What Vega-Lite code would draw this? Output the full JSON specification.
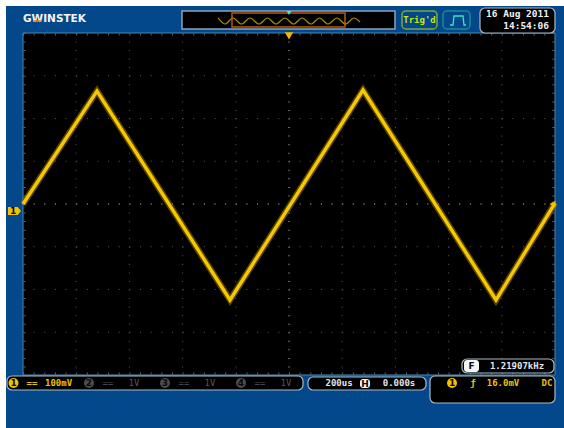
{
"$schema":"https://vega.github.io/schema/vega-lite/v6.json",
"width":564,"height":428,"padding":0,
"autosize":{"type":"none"},
"background":"#ffffff",
"config":{"view":{"stroke":null}},
"datasets":{"trace":[{"t":-1000,"v":0},{"t":-721.8,"v":264.3},{"t":-221.8,"v":-224.6},{"t":278.2,"v":266.7},{"t":778.2,"v":-224.6},{"t":1000,"v":2.3}]},
"encoding":{
"x":{"field":"t","type":"quantitative","axis":null,"scale":{"domain":[-1086.47,1033.84],"nice":false,"zero":false}},
"y":{"field":"v","type":"quantitative","axis":null,"scale":{"domain":[-523.98,477.19],"nice":false,"zero":false}}
},
"layer":[
{"data":{"values":[{"t":-1063.9,"t2":1033.84,"v":463.2,"v2":-523.98}]},"mark":{"type":"rect","fill":"#02488a"},"encoding":{"x2":{"field":"t2"},"y2":{"field":"v2"}}},
{"data":{"values":[{"t":-1000,"t2":1000,"v":400,"v2":-400}]},"mark":{"type":"rect","fill":"#000000","stroke":"#4a88b4","strokeWidth":1},"encoding":{"x2":{"field":"t2"},"y2":{"field":"v2"}}},
{"data":{"values":[{"t":-800,"v":400,"v2":-400},{"t":-600,"v":400,"v2":-400},{"t":-400,"v":400,"v2":-400},{"t":-200,"v":400,"v2":-400},{"t":200,"v":400,"v2":-400},{"t":400,"v":400,"v2":-400},{"t":600,"v":400,"v2":-400},{"t":800,"v":400,"v2":-400}]},"mark":{"type":"rule","stroke":"#5c5c5c","strokeWidth":1,"strokeDash":[1,7.55]},"encoding":{"y2":{"field":"v2"}}},
{"data":{"values":[{"v":300,"t":-1000,"t2":1000},{"v":200,"t":-1000,"t2":1000},{"v":100,"t":-1000,"t2":1000},{"v":-100,"t":-1000,"t2":1000},{"v":-200,"t":-1000,"t2":1000},{"v":-300,"t":-1000,"t2":1000}]},"mark":{"type":"rule","stroke":"#5c5c5c","strokeWidth":1,"strokeDash":[1,9.64]},"encoding":{"x2":{"field":"t2"}}},
{"data":{"values":[{"t":0,"v":400,"v2":-400},{"t":-994.4,"v":400,"v2":-400},{"t":994.4,"v":400,"v2":-400}]},"mark":{"type":"rule","stroke":"#666666","strokeWidth":2.2,"strokeDash":[1,7.55]},"encoding":{"y2":{"field":"v2"}}},
{"data":{"values":[{"v":0,"t":-1000,"t2":1000},{"v":396.5,"t":-1000,"t2":1000},{"v":-396.5,"t":-1000,"t2":1000}]},"mark":{"type":"rule","stroke":"#666666","strokeWidth":2.2,"strokeDash":[1,9.64]},"encoding":{"x2":{"field":"t2"}}},
{"data":{"name":"trace"},"mark":{"type":"line","stroke":"#8a6500","strokeWidth":6.5,"opacity":0.65,"strokeJoin":"miter","strokeMiterLimit":6}},
{"data":{"name":"trace"},"mark":{"type":"line","stroke":"#f6c800","strokeWidth":3.4,"strokeJoin":"miter"}},
{"data":{"values":[{"t":-402.3,"t2":398.5,"v":451.5,"v2":409.4}]},"mark":{"type":"rect","fill":"#000000","stroke":"#8fa3b5","strokeWidth":1.5},"encoding":{"x2":{"field":"t2"},"y2":{"field":"v2"}}},
{"data":{"values":[{"t":-214.3,"t2":210.5,"v":446.8,"v2":414}]},"mark":{"type":"rect","fill":"#000000","stroke":"#b85a08","strokeWidth":1.5},"encoding":{"x2":{"field":"t2"},"y2":{"field":"v2"}}},
{"data":{"values":[{"t":-266.9,"v":435.1},{"t":-240.6,"v":421.1},{"t":-210.5,"v":435.1},{"t":-178.6,"v":421.1},{"t":-146.6,"v":435.1},{"t":-112.8,"v":421.1},{"t":-80.8,"v":435.1},{"t":-48.9,"v":421.1},{"t":-15,"v":435.1},{"t":16.9,"v":421.1},{"t":48.9,"v":435.1},{"t":82.7,"v":421.1},{"t":114.7,"v":435.1},{"t":146.6,"v":421.1},{"t":180.5,"v":435.1},{"t":212.4,"v":421.1},{"t":244.4,"v":435.1},{"t":266.9,"v":425.7}]},"mark":{"type":"line","stroke":"#a58600","strokeWidth":1.2,"interpolate":"monotone"}},
{"data":{"values":[{"t":424.8,"t2":556.4,"v":451.5,"v2":409.4}]},"mark":{"type":"rect","fill":"#02488a","stroke":"#7fa63a","strokeWidth":1.5,"cornerRadius":4},"encoding":{"x2":{"field":"t2"},"y2":{"field":"v2"}}},
{"data":{"values":[{"t":578.9,"t2":680.5,"v":451.5,"v2":409.4}]},"mark":{"type":"rect","fill":"#02488a","stroke":"#1c8a92","strokeWidth":1.5,"cornerRadius":4},"encoding":{"x2":{"field":"t2"},"y2":{"field":"v2"}}},
{"data":{"values":[{"t":605.3,"v":418.7},{"t":616.5,"v":418.7},{"t":620.3,"v":439.8},{"t":654.1,"v":439.8},{"t":657.9,"v":418.7},{"t":665.4,"v":418.7}]},"mark":{"type":"line","stroke":"#3fe3c8","strokeWidth":1.3}},
{"data":{"values":[{"t":718,"t2":1000,"v":458.5,"v2":400},{"t":-1060.2,"t2":52.6,"v":-402.3,"v2":-435.1},{"t":71.4,"t2":515,"v":-404.7,"v2":-435.1},{"t":530.1,"t2":1000,"v":-402.3,"v2":-465.5},{"t":650.4,"t2":996.2,"v":-362.6,"v2":-395.3}]},"mark":{"type":"rect","fill":"#000000","stroke":"#a9b9c8","strokeWidth":1.2,"cornerRadius":5},"encoding":{"x2":{"field":"t2"},"y2":{"field":"v2"}}},
{"data":{"values":[{"t":657.9,"t2":714.3,"v":-364.9,"v2":-393},{"t":266.9,"t2":304.5,"v":-409.4,"v2":-430.4}]},"mark":{"type":"rect","fill":"#f4f4f4","cornerRadius":3},"encoding":{"x2":{"field":"t2"},"y2":{"field":"v2"}}},
{"data":{"values":[{"t":-1032,"v":-16.4}]},"mark":{"type":"point","filled":true,"fill":"#f2c200","opacity":1,"size":169,"strokeWidth":0,"shape":"M-1,-0.62L0.5,-0.62L1,0L0.5,0.62L-1,0.62Z"}},
{"data":{"values":[{"t":990.6,"v":0}]},"mark":{"type":"point","filled":true,"fill":"#f2c200","opacity":1,"size":45,"strokeWidth":0,"shape":"triangle-left"}},
{"data":{"values":[{"t":0,"v":393}]},"mark":{"type":"point","filled":true,"fill":"#f2b800","opacity":1,"size":70,"strokeWidth":0,"shape":"triangle-down"}},
{"data":{"values":[{"t":0,"v":446.8}]},"mark":{"type":"point","filled":true,"fill":"#3fe8f0","opacity":1,"size":22,"strokeWidth":0,"shape":"triangle-down"}},
{"data":{"values":[{"t":-1035.7,"v":-418.7},{"t":612.8,"v":-418.7}]},"mark":{"type":"point","filled":true,"fill":"#f2c200","opacity":1,"size":100,"strokeWidth":0,"shape":"circle"}},
{"data":{"values":[{"t":-751.9,"v":-418.7},{"t":-466.2,"v":-418.7},{"t":-180.5,"v":-418.7}]},"mark":{"type":"point","filled":true,"fill":"#4d4d4d","opacity":1,"size":100,"strokeWidth":0,"shape":"circle"}},
{"data":{"values":[{"t":-1000,"v":433.5,"label":"GWINSTEK"}]},"mark":{"type":"text","align":"left","baseline":"middle","font":"DejaVu Sans","fontWeight":"bold","fontSize":10.5,"fill":"#f4f4f4"},"encoding":{"text":{"field":"label"}}},
{"data":{"values":[{"t":-958.6,"t2":-932.3,"v":428.1}]},"mark":{"type":"rule","stroke":"#e8801a","strokeWidth":1.6},"encoding":{"x2":{"field":"t2"}}},
{"data":{"values":[{"t":490.6,"v":430.4,"label":"Trig'd"}]},"mark":{"type":"text","align":"center","baseline":"middle","font":"DejaVu Sans Mono","fontWeight":"bold","fontSize":9,"fill":"#c6e818"},"encoding":{"text":{"field":"label"}}},
{"data":{"values":[{"t":977.4,"v":444.4,"label":"16 Aug 2011"},{"t":977.4,"v":416.4,"label":"14:54:06"}]},"mark":{"type":"text","align":"right","baseline":"middle","font":"DejaVu Sans Mono","fontWeight":"bold","fontSize":9.5,"fill":"#f0f0f0"},"encoding":{"text":{"field":"label"}}},
{"data":{"values":[{"t":857.1,"v":-379,"label":"1.21907kHz"},{"t":188,"v":-418.7,"label":"200us"},{"t":413.5,"v":-418.7,"label":"0.000s"}]},"mark":{"type":"text","align":"center","baseline":"middle","font":"DejaVu Sans Mono","fontWeight":"bold","fontSize":9,"fill":"#e6e6e6"},"encoding":{"text":{"field":"label"}}},
{"data":{"values":[{"t":-966.2,"v":-418.7,"label":"=="},{"t":-866.5,"v":-418.7,"label":"100mV"},{"t":691.7,"v":-418.7,"label":"ƒ"},{"t":804.5,"v":-418.7,"label":"16.0mV"},{"t":969.9,"v":-418.7,"label":"DC"}]},"mark":{"type":"text","align":"center","baseline":"middle","font":"DejaVu Sans Mono","fontWeight":"bold","fontSize":9,"fill":"#efc000"},"encoding":{"text":{"field":"label"}}},
{"data":{"values":[{"t":-680.5,"v":-418.7,"label":"=="},{"t":-582.7,"v":-418.7,"label":"1V"},{"t":-394.7,"v":-418.7,"label":"=="},{"t":-297,"v":-418.7,"label":"1V"},{"t":-109,"v":-418.7,"label":"=="},{"t":-11.3,"v":-418.7,"label":"1V"}]},"mark":{"type":"text","align":"center","baseline":"middle","font":"DejaVu Sans Mono","fontSize":9,"fill":"#565656"},"encoding":{"text":{"field":"label"}}},
{"data":{"values":[{"t":-1037,"v":-16.4,"label":"1"},{"t":-1035.7,"v":-418.7,"label":"1"},{"t":612.8,"v":-418.7,"label":"1"},{"t":-751.9,"v":-418.7,"label":"2"},{"t":-466.2,"v":-418.7,"label":"3"},{"t":-180.5,"v":-418.7,"label":"4"},{"t":686.1,"v":-379,"label":"F"},{"t":285.7,"v":-419.9,"label":"H"}]},"mark":{"type":"text","align":"center","baseline":"middle","font":"DejaVu Sans","fontWeight":"bold","fontSize":9,"fill":"#0a0a0a"},"encoding":{"text":{"field":"label"}}}
]
}
